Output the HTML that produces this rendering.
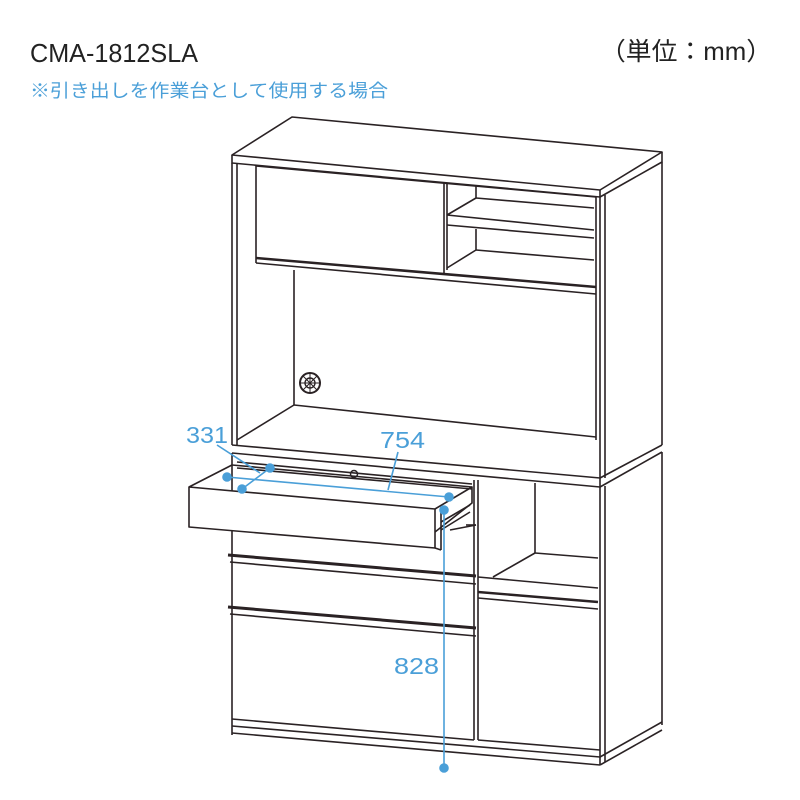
<!DOCTYPE html>
<html><head><meta charset="utf-8"><style>
html,body{margin:0;padding:0;background:#fff;}
svg{display:block;}
</style></head><body>
<svg width="800" height="800" viewBox="0 0 800 800" xmlns="http://www.w3.org/2000/svg">
<g fill="none" stroke="#2a2224" stroke-width="1.6" stroke-linejoin="round">
<!-- top board -->
<polygon points="232,155 292,117 662,152 600,190" fill="#fff"/>
<polyline points="232,155 232,163 600,197 600,190"/>
<polyline points="600,197 662,162 662,152"/>
<!-- hutch sides -->
<line x1="232" y1="163" x2="232" y2="445"/>
<line x1="237" y1="163" x2="237" y2="445"/>
<line x1="600" y1="197" x2="600" y2="478"/>
<line x1="605" y1="195" x2="605" y2="478"/>
<line x1="662" y1="162" x2="662" y2="445"/>
<!-- upper opening -->
<line x1="256" y1="166" x2="256" y2="258"/>
<line x1="256" y1="166" x2="596" y2="197"/>
<line x1="596" y1="197" x2="596" y2="440"/>
<!-- door -->
<line x1="444" y1="183" x2="444" y2="273"/>
<line x1="256" y1="258" x2="596" y2="287" stroke-width="2.6"/>
<line x1="256" y1="263" x2="596" y2="294"/>
<line x1="256" y1="258" x2="256" y2="263"/>
<!-- right cubby shelves -->
<line x1="447" y1="184" x2="447" y2="270"/>
<polyline points="476,186 476,198 447,215"/>
<line x1="476" y1="198" x2="594" y2="208"/>
<line x1="447" y1="215" x2="594" y2="230"/>
<line x1="447" y1="225" x2="594" y2="238"/>
<polyline points="476,229 476,250 447,268"/>
<line x1="476" y1="250" x2="594" y2="260"/>
<!-- back wall lines -->
<line x1="294" y1="270" x2="294" y2="405"/>
<line x1="294" y1="405" x2="596" y2="437"/>
<line x1="294" y1="405" x2="237" y2="440"/>
<circle cx="310" cy="383" r="10" stroke-width="2"/>
<circle cx="310" cy="383" r="5" stroke-width="1.4"/>
<path d="M303 376 L317 390 M303 390 L317 376 M300 383 H320 M310 373 V393" stroke-width="1"/>
<!-- countertop band -->
<polyline points="232,445 600,478 662,445"/>
<line x1="232" y1="453" x2="600" y2="487"/>
<line x1="600" y1="487" x2="662" y2="452"/>
<line x1="600" y1="478" x2="600" y2="487"/>
<!-- lower sides -->
<line x1="232" y1="453" x2="232" y2="735"/>
<line x1="600" y1="487" x2="600" y2="765"/>
<line x1="605" y1="486" x2="605" y2="762"/>
<line x1="662" y1="452" x2="662" y2="725"/>
<!-- drawer top gap -->
<line x1="237" y1="462" x2="472" y2="484"/>
<line x1="237" y1="468" x2="472" y2="489"/>
<circle cx="354" cy="474" r="3.5" stroke-width="1.5"/>
<!-- divider -->
<line x1="474" y1="480" x2="474" y2="740"/>
<line x1="478" y1="480" x2="478" y2="740"/>
<!-- open cubby right -->
<line x1="535" y1="483" x2="535" y2="553"/>
<line x1="535" y1="553" x2="598" y2="558"/>
<line x1="535" y1="553" x2="493" y2="577"/>
<line x1="478" y1="577" x2="598" y2="588"/>
<!-- right door -->
<line x1="478" y1="592" x2="598" y2="602" stroke-width="2.4"/>
<line x1="478" y1="598" x2="598" y2="609"/>
<!-- drawer 2 -->
<line x1="228" y1="555" x2="476" y2="576" stroke-width="3"/>
<line x1="230" y1="562" x2="476" y2="584"/>
<line x1="466" y1="525" x2="476" y2="525"/>
<!-- drawer 3 -->
<line x1="228" y1="607" x2="476" y2="628" stroke-width="3"/>
<line x1="230" y1="614" x2="476" y2="636"/>
<!-- plinth -->
<line x1="232" y1="719" x2="474" y2="740"/>
<line x1="232" y1="726" x2="600" y2="757"/>
<line x1="232" y1="733" x2="600" y2="765"/>
<line x1="478" y1="740" x2="600" y2="750"/>
<line x1="600" y1="757" x2="662" y2="722"/>
<line x1="600" y1="765" x2="662" y2="730"/>
<!-- open drawer -->
<polygon points="189,487 435,509 435,548 189,527" fill="#fff"/>
<polyline points="189,487 232,465"/>
<polyline points="435,509 472,487 472,503 435,532"/>
<line x1="441" y1="507" x2="441" y2="550"/>
<line x1="435" y1="548" x2="441" y2="550"/>
<line x1="232" y1="465" x2="472" y2="487"/>
<line x1="441" y1="522" x2="470" y2="505"/>
<line x1="441" y1="530" x2="470" y2="512"/>
<line x1="450" y1="530" x2="476" y2="525"/>
</g>
<!-- blue dims -->
<g stroke="#4a9fd8" stroke-width="1.6" fill="#4a9fd8">
<line x1="227" y1="477" x2="449" y2="497"/>
<line x1="242" y1="489" x2="270" y2="468"/>
<line x1="217" y1="445" x2="260" y2="473"/>
<line x1="398" y1="452" x2="388" y2="490"/>
<line x1="444" y1="510" x2="444" y2="768"/>
<circle cx="227" cy="477" r="4"/>
<circle cx="270" cy="468" r="4"/>
<circle cx="242" cy="489" r="4"/>
<circle cx="449" cy="497" r="4"/>
<circle cx="444" cy="510" r="4"/>
<circle cx="444" cy="768" r="4"/>
</g>
<g font-family="Liberation Sans, sans-serif" fill="#4a9fd8" font-size="23">
<text x="186" y="443" textLength="42" lengthAdjust="spacingAndGlyphs">331</text>
<text x="380" y="448" textLength="45" lengthAdjust="spacingAndGlyphs">754</text>
<text x="394" y="674" textLength="45" lengthAdjust="spacingAndGlyphs">828</text>
</g>
<text x="30" y="62" font-family="Liberation Sans, sans-serif" font-size="26" fill="#222" textLength="168" lengthAdjust="spacingAndGlyphs">CMA-1812SLA</text>
<text x="600" y="60" font-family="Liberation Sans, 'Noto Sans CJK JP', sans-serif" font-size="25" fill="#222" textLength="172" lengthAdjust="spacingAndGlyphs">（単位：mm）</text>
<text x="30" y="97" font-family="Liberation Sans, 'Noto Sans CJK JP', sans-serif" font-size="18" fill="#4a9fd8" textLength="358" lengthAdjust="spacingAndGlyphs">※引き出しを作業台として使用する場合</text>
</svg>
</body></html>
